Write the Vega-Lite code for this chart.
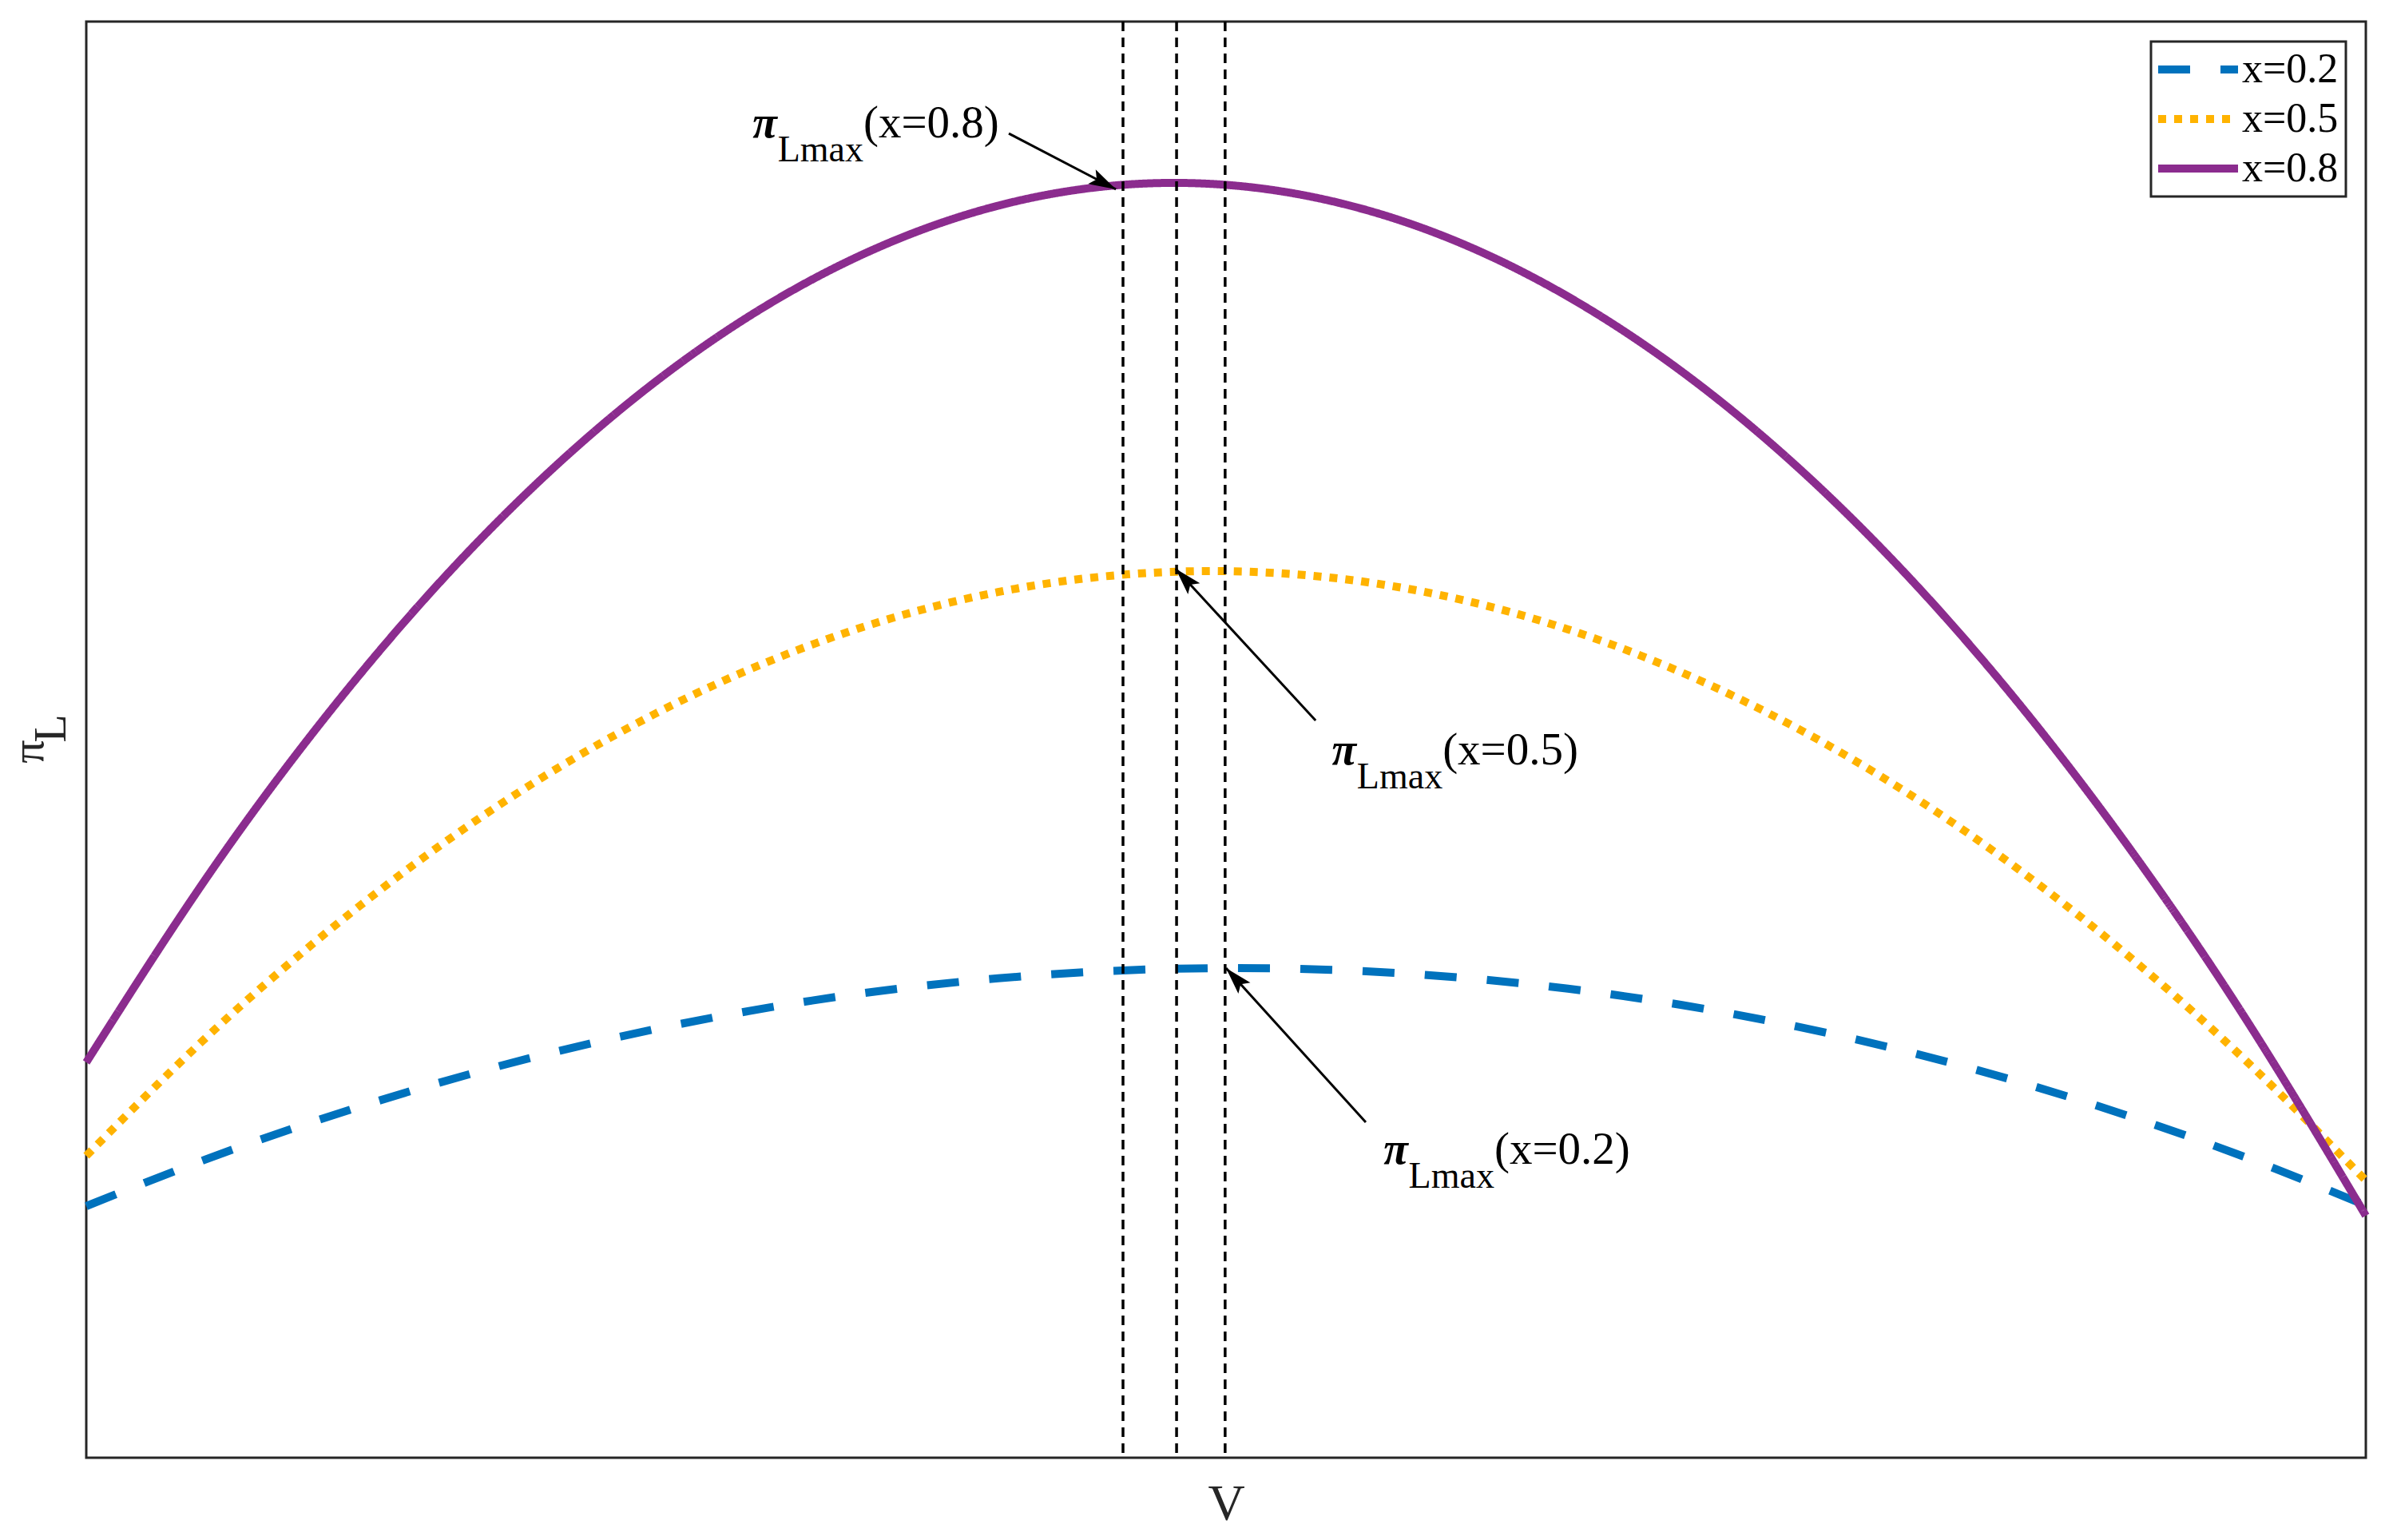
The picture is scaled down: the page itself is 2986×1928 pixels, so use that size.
{
  "$schema": "https://vega.github.io/schema/vega-lite/v6.json",
  "width": 2854,
  "height": 1798,
  "autosize": {"type": "none"},
  "padding": {"left": 108, "top": 27, "right": 24, "bottom": 103},
  "background": "white",
  "config": {
    "view": {"stroke": "#262626", "strokeWidth": 3},
    "font": "Liberation Serif",
    "axis": {"grid": false, "ticks": false, "labels": false, "domain": false, "titleFont": "Liberation Serif", "titleFontWeight": "normal", "titleColor": "#262626"},
    "legend": {
      "orient": "top-right", "offset": 25, "padding": 9, "strokeColor": "#262626", "strokeWidth": 3, "fillColor": "white",
      "labelFont": "Liberation Serif", "labelFontSize": 52, "labelColor": "black", "labelOffset": 29, "labelLimit": 0,
      "symbolType": "M-2.5,0H2.5", "symbolSize": 1600, "symbolOffset": 24, "symbolStrokeWidth": 10, "rowPadding": 10
    }
  },
  "datasets": {
    "curves": [
      {"V": 0.00, "pi": 0.1752, "series": "x=0.2"},
      {"V": 0.05, "pi": 0.2063, "series": "x=0.2"},
      {"V": 0.10, "pi": 0.2342, "series": "x=0.2"},
      {"V": 0.15, "pi": 0.2589, "series": "x=0.2"},
      {"V": 0.20, "pi": 0.2804, "series": "x=0.2"},
      {"V": 0.25, "pi": 0.2986, "series": "x=0.2"},
      {"V": 0.30, "pi": 0.3136, "series": "x=0.2"},
      {"V": 0.35, "pi": 0.3254, "series": "x=0.2"},
      {"V": 0.40, "pi": 0.3338, "series": "x=0.2"},
      {"V": 0.45, "pi": 0.3390, "series": "x=0.2"},
      {"V": 0.50, "pi": 0.3409, "series": "x=0.2"},
      {"V": 0.55, "pi": 0.3395, "series": "x=0.2"},
      {"V": 0.60, "pi": 0.3347, "series": "x=0.2"},
      {"V": 0.65, "pi": 0.3266, "series": "x=0.2"},
      {"V": 0.70, "pi": 0.3152, "series": "x=0.2"},
      {"V": 0.75, "pi": 0.3004, "series": "x=0.2"},
      {"V": 0.80, "pi": 0.2823, "series": "x=0.2"},
      {"V": 0.85, "pi": 0.2607, "series": "x=0.2"},
      {"V": 0.90, "pi": 0.2358, "series": "x=0.2"},
      {"V": 0.95, "pi": 0.2075, "series": "x=0.2"},
      {"V": 1.00, "pi": 0.1757, "series": "x=0.2"},
      {"V": 0.00, "pi": 0.2102, "series": "x=0.5"},
      {"V": 0.05, "pi": 0.2887, "series": "x=0.5"},
      {"V": 0.10, "pi": 0.3587, "series": "x=0.5"},
      {"V": 0.15, "pi": 0.4203, "series": "x=0.5"},
      {"V": 0.20, "pi": 0.4736, "series": "x=0.5"},
      {"V": 0.25, "pi": 0.5184, "series": "x=0.5"},
      {"V": 0.30, "pi": 0.5549, "series": "x=0.5"},
      {"V": 0.35, "pi": 0.5830, "series": "x=0.5"},
      {"V": 0.40, "pi": 0.6028, "series": "x=0.5"},
      {"V": 0.45, "pi": 0.6142, "series": "x=0.5"},
      {"V": 0.50, "pi": 0.6173, "series": "x=0.5"},
      {"V": 0.55, "pi": 0.6121, "series": "x=0.5"},
      {"V": 0.60, "pi": 0.5986, "series": "x=0.5"},
      {"V": 0.65, "pi": 0.5768, "series": "x=0.5"},
      {"V": 0.70, "pi": 0.5467, "series": "x=0.5"},
      {"V": 0.75, "pi": 0.5084, "series": "x=0.5"},
      {"V": 0.80, "pi": 0.4618, "series": "x=0.5"},
      {"V": 0.85, "pi": 0.4069, "series": "x=0.5"},
      {"V": 0.90, "pi": 0.3439, "series": "x=0.5"},
      {"V": 0.95, "pi": 0.2725, "series": "x=0.5"},
      {"V": 1.00, "pi": 0.1930, "series": "x=0.5"},
      {"V": 0.00, "pi": 0.2753, "series": "x=0.8"},
      {"V": 0.05, "pi": 0.3974, "series": "x=0.8"},
      {"V": 0.10, "pi": 0.5059, "series": "x=0.8"},
      {"V": 0.15, "pi": 0.6007, "series": "x=0.8"},
      {"V": 0.20, "pi": 0.6819, "series": "x=0.8"},
      {"V": 0.25, "pi": 0.7496, "series": "x=0.8"},
      {"V": 0.30, "pi": 0.8038, "series": "x=0.8"},
      {"V": 0.35, "pi": 0.8445, "series": "x=0.8"},
      {"V": 0.40, "pi": 0.8718, "series": "x=0.8"},
      {"V": 0.45, "pi": 0.8857, "series": "x=0.8"},
      {"V": 0.50, "pi": 0.8863, "series": "x=0.8"},
      {"V": 0.55, "pi": 0.8736, "series": "x=0.8"},
      {"V": 0.60, "pi": 0.8477, "series": "x=0.8"},
      {"V": 0.65, "pi": 0.8085, "series": "x=0.8"},
      {"V": 0.70, "pi": 0.7562, "series": "x=0.8"},
      {"V": 0.75, "pi": 0.6908, "series": "x=0.8"},
      {"V": 0.80, "pi": 0.6123, "series": "x=0.8"},
      {"V": 0.85, "pi": 0.5208, "series": "x=0.8"},
      {"V": 0.90, "pi": 0.4163, "series": "x=0.8"},
      {"V": 0.95, "pi": 0.2989, "series": "x=0.8"},
      {"V": 1.00, "pi": 0.1685, "series": "x=0.8"}
    ],
    "peaks": [{"V": 0.4548}, {"V": 0.4783}, {"V": 0.4996}],
    "notes": [
      {"X": 0.3409, "Y": 0.9194, "pisym": "π", "sub": "Lmax", "main": "(x=0.8)"},
      {"X": 0.5950, "Y": 0.4828, "pisym": "π", "sub": "Lmax", "main": "(x=0.5)"},
      {"X": 0.6177, "Y": 0.2047, "pisym": "π", "sub": "Lmax", "main": "(x=0.2)"}
    ],
    "arrows": [
      {"k": "0.8", "x0": 0.4047, "y0": 0.9221, "x1": 0.4517, "y1": 0.8832},
      {"k": "0.5", "x0": 0.5393, "y0": 0.5133, "x1": 0.4779, "y1": 0.6190},
      {"k": "0.2", "x0": 0.5613, "y0": 0.2336, "x1": 0.5000, "y1": 0.3409}
    ]
  },
  "layer": [
    {
      "data": {"name": "curves"},
      "mark": {"type": "line", "strokeWidth": 10, "interpolate": "natural", "strokeCap": "butt"},
      "encoding": {
        "x": {"field": "V", "type": "quantitative", "scale": {"domain": [0, 1], "nice": false, "zero": false},
              "axis": {"title": "V", "titleFontSize": 64, "titlePadding": 26}},
        "y": {"field": "pi", "type": "quantitative", "scale": {"domain": [0, 1], "nice": false, "zero": false},
              "axis": {"title": ["π\u2002\u200B", "\u200B\u2002L"], "titleFontSize": 58, "titleLineHeight": 28, "titleBaseline": "alphabetic", "titleX": -55, "titleY": 899, "titleAngle": -90, "titleAlign": "center"}},
        "color": {"field": "series", "type": "nominal", "scale": {"domain": ["x=0.2", "x=0.5", "x=0.8"], "range": ["#0072BD", "#FFB300", "#8B2C8E"]}, "legend": {"title": null}},
        "strokeDash": {"field": "series", "type": "nominal", "scale": {"domain": ["x=0.2", "x=0.5", "x=0.8"], "range": [[40, 38], [10, 10], [1, 0]]}, "legend": {"title": null}}
      }
    },
    {
      "data": {"name": "peaks"},
      "mark": {"type": "rule", "color": "black", "strokeWidth": 3.5, "strokeDash": [12, 8]},
      "encoding": {"x": {"field": "V", "type": "quantitative"}}
    },
    {
      "data": {"name": "arrows"},
      "mark": {"type": "rule", "color": "black", "strokeWidth": 3},
      "encoding": {
        "x": {"field": "x0", "type": "quantitative"},
        "y": {"field": "y0", "type": "quantitative"},
        "x2": {"field": "x1"},
        "y2": {"field": "y1"}
      }
    },
    {
      "data": {"name": "arrows"},
      "transform": [{"filter": "datum.k == '0.8'"}],
      "mark": {"type": "point", "shape": "M0,0L-0.6,2L0,1.6L0.6,2Z", "size": 1156, "filled": true, "color": "black", "opacity": 1, "angle": 117.6},
      "encoding": {"x": {"field": "x1", "type": "quantitative"}, "y": {"field": "y1", "type": "quantitative"}}
    },
    {
      "data": {"name": "arrows"},
      "transform": [{"filter": "datum.k != '0.8'"}],
      "mark": {"type": "point", "shape": "M0,0L-0.6,2L0,1.6L0.6,2Z", "size": 1156, "filled": true, "color": "black", "opacity": 1, "angle": -42.4},
      "encoding": {"x": {"field": "x1", "type": "quantitative"}, "y": {"field": "y1", "type": "quantitative"}}
    },
    {
      "data": {"name": "notes"},
      "mark": {"type": "text", "align": "left", "baseline": "alphabetic", "fontSize": 57, "font": "Liberation Serif", "color": "black"},
      "encoding": {"x": {"field": "X", "type": "quantitative"}, "y": {"field": "Y", "type": "quantitative"}, "text": {"field": "main"}}
    },
    {
      "data": {"name": "notes"},
      "mark": {"type": "text", "align": "right", "baseline": "alphabetic", "fontSize": 46, "dy": 30, "font": "Liberation Serif", "color": "black"},
      "encoding": {"x": {"field": "X", "type": "quantitative"}, "y": {"field": "Y", "type": "quantitative"}, "text": {"field": "sub"}}
    },
    {
      "data": {"name": "notes"},
      "mark": {"type": "text", "align": "right", "baseline": "alphabetic", "fontSize": 56, "dx": -108, "font": "Liberation Serif", "fontStyle": "italic", "fontWeight": "bold", "color": "black"},
      "encoding": {"x": {"field": "X", "type": "quantitative"}, "y": {"field": "Y", "type": "quantitative"}, "text": {"field": "pisym"}}
    }
  ]
}
